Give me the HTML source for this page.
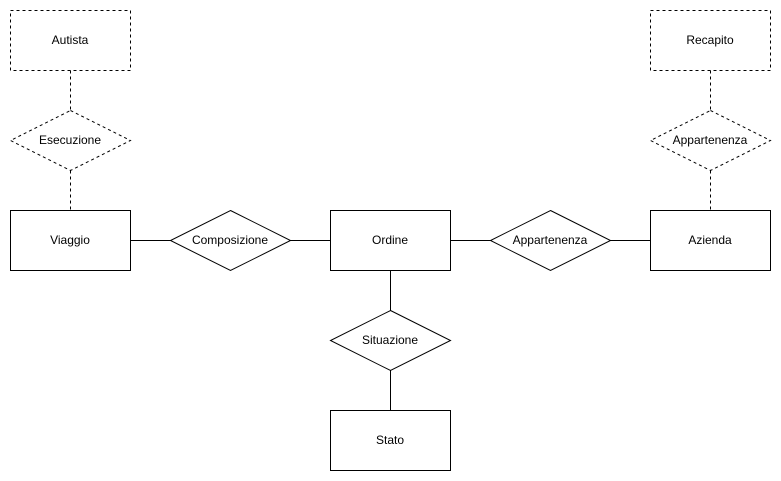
<!DOCTYPE html>
<html><head><meta charset="utf-8"><style>
html,body{margin:0;padding:0;background:#fff;}
svg{display:block;}
text{font-family:"Liberation Sans",Arial,sans-serif;font-size:12px;fill:#000;}
</style></head><body>
<svg width="781" height="481" viewBox="0 0 781 481" xmlns="http://www.w3.org/2000/svg">
<g fill="#fff" stroke="#000" stroke-width="1">
<!-- dashed -->
<g stroke-dasharray="3,3">
<rect x="10.5" y="10.5" width="120" height="60"/>
<polygon points="70.5,110.5 130.5,140.5 70.5,170.5 10.5,140.5"/>
<rect x="650.5" y="10.5" width="120" height="60"/>
<polygon points="710.5,110.5 770.5,140.5 710.5,170.5 650.5,140.5"/>
<line x1="70.5" y1="70.5" x2="70.5" y2="110.5"/>
<line x1="70.5" y1="170.5" x2="70.5" y2="210.5"/>
<line x1="710.5" y1="70.5" x2="710.5" y2="110.5"/>
<line x1="710.5" y1="170.5" x2="710.5" y2="210.5"/>
</g>
<rect x="10.5" y="210.5" width="120" height="60"/>
<rect x="330.5" y="210.5" width="120" height="60"/>
<rect x="650.5" y="210.5" width="120" height="60"/>
<rect x="330.5" y="410.5" width="120" height="60"/>
<polygon points="230.5,210.5 290.5,240.5 230.5,270.5 170.5,240.5"/>
<polygon points="550.5,210.5 610.5,240.5 550.5,270.5 490.5,240.5"/>
<polygon points="390.5,310.5 450.5,340.5 390.5,370.5 330.5,340.5"/>
<line x1="130.5" y1="240.5" x2="170.5" y2="240.5"/>
<line x1="290.5" y1="240.5" x2="330.5" y2="240.5"/>
<line x1="450.5" y1="240.5" x2="490.5" y2="240.5"/>
<line x1="610.5" y1="240.5" x2="650.5" y2="240.5"/>
<line x1="390.5" y1="270.5" x2="390.5" y2="310.5"/>
<line x1="390.5" y1="370.5" x2="390.5" y2="410.5"/>
</g>
<g text-anchor="middle" dominant-baseline="central">
<text x="70" y="40">Autista</text>
<text x="70" y="140">Esecuzione</text>
<text x="70" y="240">Viaggio</text>
<text x="230" y="240">Composizione</text>
<text x="390" y="240">Ordine</text>
<text x="550" y="240">Appartenenza</text>
<text x="710" y="240">Azienda</text>
<text x="710" y="40">Recapito</text>
<text x="710" y="140">Appartenenza</text>
<text x="390" y="340">Situazione</text>
<text x="390" y="440">Stato</text>
</g>
</svg>
</body></html>
